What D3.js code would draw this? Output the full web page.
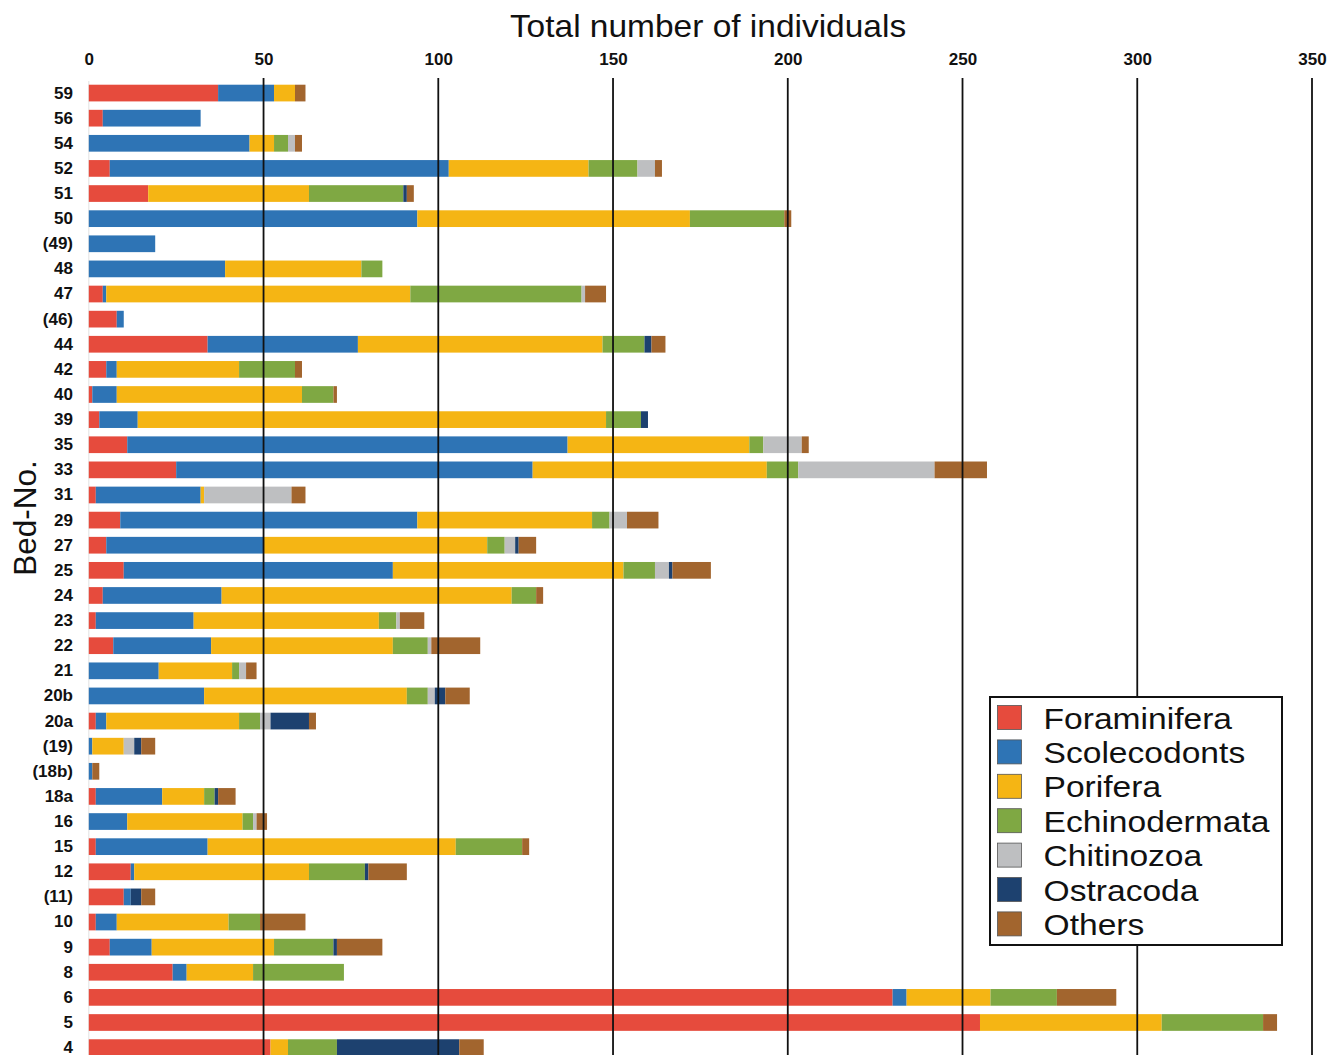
<!DOCTYPE html>
<html>
<head>
<meta charset="utf-8">
<script src="https://cdn.jsdelivr.net/npm/d3@7"></script>
<style>
  html, body { margin: 0; padding: 0; background: #fff; }
  svg { display: block; }
</style>
</head>
<body>
<svg id="chart" width="1338" height="1055"></svg>
<script>
// ---- Data ----
const beds = ["59","56","54","52","51","50","(49)","48","47","(46)","44","42","40","39","35","33","31","29","27","25","24","23","22","21","20b","20a","(19)","(18b)","18a","16","15","12","(11)","10","9","8","6","5","4"];

const seriesNames = ["Foraminifera","Scolecodonts","Porifera","Echinodermata","Chitinozoa","Ostracoda","Others"];
const seriesColors = ["#E64B3D","#2E74B5","#F5B514","#7FA843","#BEBFC1","#1D416F","#A2652E"];

const foraminifera  = [37,4,0,6,17,0,0,0,4,8,34,5,1,3,11,25,2,9,5,10,4,2,7,0,0,2,0,0,2,0,2,12,10,2,6,24,230,255,52];
const scolecodonts  = [16,28,46,97,0,94,19,39,1,2,43,3,7,11,126,102,30,85,45,77,34,28,28,20,33,3,1,1,19,11,32,1,2,6,12,4,4,0,0];
const porifera      = [6,0,7,40,46,78,0,39,87,0,70,35,53,134,52,67,1,50,64,66,83,53,52,21,58,38,9,0,12,33,71,50,0,32,35,19,24,52,5];
const echinodermata = [0,0,4,14,27,27,0,6,49,0,12,16,9,10,4,9,0,5,5,9,7,5,10,2,6,6,0,0,3,3,19,16,0,9,17,26,19,29,14];
const chitinozoa    = [0,0,2,5,0,0,0,0,1,0,0,0,0,0,11,39,25,5,3,4,0,1,1,2,2,3,3,0,0,1,0,0,0,0,0,0,0,0,0];
const ostracoda     = [0,0,0,0,1,0,0,0,0,0,2,0,0,2,0,0,0,0,1,1,0,0,0,0,3,11,2,0,1,0,0,1,3,0,1,0,0,0,35];
const others        = [3,0,2,2,2,2,0,0,6,0,4,2,1,0,2,15,4,9,5,11,2,7,14,3,7,2,4,2,5,3,2,11,4,13,13,0,17,4,7];

const xTicks = [0,50,100,150,200,250,300,350];
const xTitle = "Total number of individuals";
const yTitle = "Bed-No.";

// ---- Build table ----
const seriesValues = [foraminifera, scolecodonts, porifera, echinodermata, chitinozoa, ostracoda, others];
const table = beds.map((b, i) => {
  const row = { bed: b };
  seriesNames.forEach((s, j) => row[s] = seriesValues[j][i]);
  return row;
});
const stacked = d3.stack().keys(seriesNames)(table);

// ---- Layout ----
const svg = d3.select("#chart");
const x = d3.scaleLinear().domain([0, 350]).range([88.8, 1312]);
const y = d3.scaleBand().domain(beds).range([80.5, 80.5 + 39 * 25.12])
  .paddingInner(0.335).paddingOuter(0.1675);

const color = d3.scaleOrdinal().domain(seriesNames).range(seriesColors);

// faint zero axis line
svg.append("line")
  .attr("x1", x(0)).attr("x2", x(0))
  .attr("y1", 81).attr("y2", 1055)
  .attr("stroke", "#e6e6e6").attr("stroke-width", 1.2);

// bars
svg.append("g").selectAll("g")
  .data(stacked)
  .join("g")
  .attr("fill", d => color(d.key))
  .selectAll("rect")
  .data(d => d)
  .join("rect")
  .attr("x", d => x(d[0]))
  .attr("y", d => y(d.data.bed))
  .attr("width", d => Math.max(0, x(d[1]) - x(d[0])))
  .attr("height", y.bandwidth());

// gridlines (drawn on top, as in reference)
svg.append("g").selectAll("line")
  .data(xTicks.filter(t => t > 0))
  .join("line")
  .attr("x1", d => x(d)).attr("x2", d => x(d))
  .attr("y1", 78).attr("y2", 1055)
  .attr("stroke", "#111").attr("stroke-width", 1.8);

// top axis tick labels
const topAxis = d3.axisTop(x).tickValues(xTicks).tickSize(0).tickPadding(0);
const gx = svg.append("g").attr("transform", "translate(0,65)").call(topAxis);
gx.select(".domain").remove();
gx.selectAll("text")
  .attr("font-family", "'Liberation Sans', Arial, sans-serif")
  .attr("font-weight", "bold")
  .attr("font-size", 17)
  .attr("fill", "#111");

// left axis labels
const leftAxis = d3.axisLeft(y).tickSize(0).tickPadding(0);
const gy = svg.append("g").attr("transform", "translate(73,0)").call(leftAxis);
gy.select(".domain").remove();
gy.selectAll("text")
  .attr("font-family", "'Liberation Sans', Arial, sans-serif")
  .attr("font-weight", "bold")
  .attr("font-size", 17)
  .attr("fill", "#111");

// titles
svg.append("text")
  .attr("transform", "translate(708,37) scale(1.08,1)")
  .attr("text-anchor", "middle")
  .attr("font-family", "'Liberation Sans', Arial, sans-serif")
  .attr("font-size", 31)
  .attr("fill", "#111")
  .text(xTitle);

svg.append("text")
  .attr("transform", "translate(36,518) rotate(-90)")
  .attr("text-anchor", "middle")
  .attr("font-family", "'Liberation Sans', Arial, sans-serif")
  .attr("font-size", 31.5)
  .attr("fill", "#111")
  .text(yTitle);

// legend
const lg = svg.append("g");
lg.append("rect")
  .attr("x", 990).attr("y", 697).attr("width", 292).attr("height", 248)
  .attr("fill", "#fff").attr("stroke", "#111").attr("stroke-width", 2);
const items = lg.selectAll("g.item").data(seriesNames).join("g")
  .attr("class", "item")
  .attr("transform", (d, i) => `translate(997.5,${705.5 + i * 34.4})`);
items.append("rect")
  .attr("width", 24).attr("height", 24)
  .attr("fill", d => color(d))
  .attr("stroke", "#555").attr("stroke-width", 0.8);
items.append("text")
  .attr("transform", "translate(46,23) scale(1.12,1)")
  .attr("font-family", "'Liberation Sans', Arial, sans-serif")
  .attr("font-size", 30)
  .attr("fill", "#111")
  .text(d => d);
</script>
</body>
</html>
